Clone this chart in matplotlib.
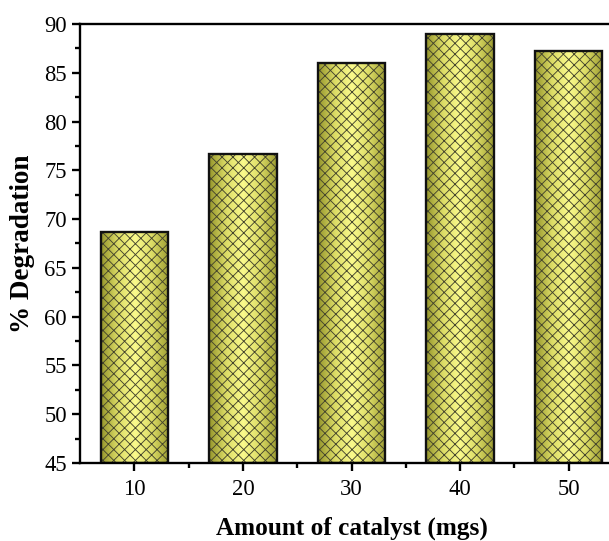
import matplotlib
matplotlib.use("Agg")
import matplotlib.pyplot as plt
import numpy as np
from matplotlib.colors import LinearSegmentedColormap
from matplotlib.ticker import MultipleLocator

categories = ["10", "20", "30", "40", "50"]
degradation = [68.7, 76.7, 86.0, 89.0, 87.2]
yticks = [45, 50, 55, 60, 65, 70, 75, 80, 85, 90]

DPI = 130
plt.rcParams['font.family'] = ['Liberation Serif', 'DejaVu Serif']
plt.rcParams['hatch.linewidth'] = 0.5

fig = plt.figure(figsize=(609 / DPI, 541 / DPI), dpi=DPI)
ax = fig.add_axes([80 / 609, 1 - 463 / 541, 543 / 609, 439 / 541])

x = np.arange(len(categories))
width = 0.62
ymin, ymax = 45, 90

cmap = LinearSegmentedColormap.from_list("cyl", ["#95952c", "#dcdc66", "#fafa8c", "#dcdc66", "#9c9c32"])
grad = np.linspace(0, 1, 256).reshape(1, -1)

bars = ax.bar(x, [v - ymin for v in degradation], width, bottom=ymin,
              facecolor="#e8e870", edgecolor="none", zorder=2)
for b in bars:
    x0, y0 = b.get_x(), b.get_y()
    im = ax.imshow(grad, cmap=cmap, extent=[x0, x0 + b.get_width(), y0, y0 + b.get_height()],
                   aspect='auto', zorder=2.1, interpolation='bilinear')
    im.set_clip_path(b)

ax.bar(x, [v - ymin for v in degradation], width, bottom=ymin,
       facecolor="none", edgecolor="#45452c", linewidth=0, hatch="xxxx", zorder=2.2)
ax.bar(x, [v - ymin for v in degradation], width, bottom=ymin,
       facecolor="none", edgecolor="#111111", linewidth=1.3, zorder=2.3)

ax.set_xlim(-0.5, 4.5)
ax.set_ylim(ymin, ymax)
ax.set_xticks(x)
ax.set_xticklabels(categories)
ax.set_yticks(yticks)
ax.yaxis.set_minor_locator(MultipleLocator(2.5))
ax.set_xticks(x[:-1] + 0.5, minor=True)

for s in ax.spines.values():
    s.set_linewidth(1.3)
ax.tick_params(axis='both', which='major', direction='out', length=4.5, width=1.3,
               labelsize=12.5, pad=2.8)
ax.tick_params(axis='both', which='minor', direction='out', length=2.5, width=1.3)
ax.tick_params(axis='x', pad=4.5)

ax.set_xlabel("Amount of catalyst (mgs)", fontsize=14, fontweight='bold', labelpad=9)
ax.set_ylabel("% Degradation", fontsize=15, fontweight='bold', labelpad=5)

fig.savefig("out.png", dpi=DPI)
